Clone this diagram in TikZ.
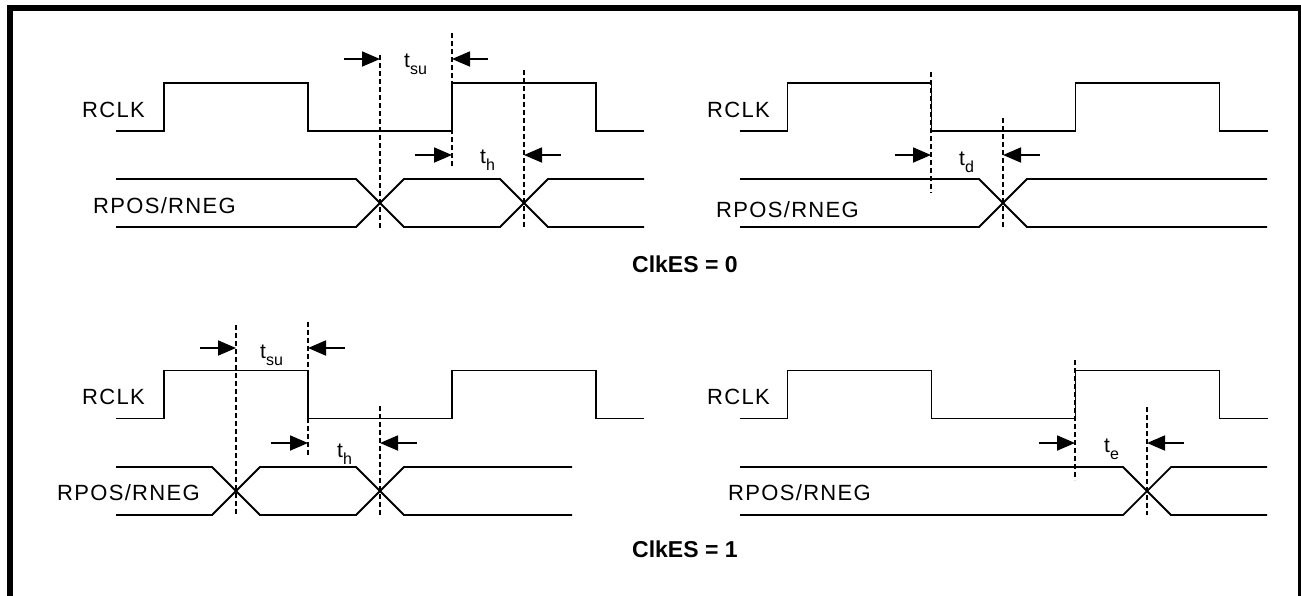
\documentclass[tikz,border=0pt]{standalone}
\usepackage{fontspec}
\setmainfont{Liberation Sans}
\newfontfamily\lblfont[LetterSpace=6]{Liberation Sans}
\usetikzlibrary{arrows.meta}

\tikzset{
  sig/.style={line width=1.8pt, line join=miter},
  guide/.style={line width=1.6pt, dash pattern=on 5pt off 3pt},
  tarr/.style={line width=1.8pt, -{Triangle[length=18pt 0 0,width=15pt 0 0]}},
  lbl/.style={inner sep=0pt, anchor=base west, font=\lblfont\fontsize{22}{26}\selectfont},
  tlbl/.style={inner sep=0pt, anchor=base west, font=\fontsize{21}{24}\selectfont},
  heading/.style={inner sep=0pt, anchor=base west, font=\bfseries\fontsize{23}{27}\selectfont},
}
\newcommand{\tsub}[1]{t\raisebox{-7pt}{\fontsize{16}{16}\selectfont #1}}

\begin{document}
\begin{tikzpicture}[x=1pt,y=-1pt]
  \useasboundingbox (0,0) rectangle (1301,595);
  % frame, open at the bottom
  \draw[line width=6pt] (10,600) -- (10,8) -- (1301,8) -- (1301,600);

  % RCLK, same in all four panels
  \foreach \dx/\dy in {0/0,623.5/0,0/287.5,623.5/287.5}
    \draw[sig,shift={(\dx,\dy)}] (116,131) -| (164,83) -| (308,131) -| (452,83) -| (596,131) -- (644,131);

  % RPOS/RNEG
  \draw[sig] (116,179) -- (356,179) -- (404,227) -- (500,227) -- (548,179) -- (644,179);
  \draw[sig] (116,227) -- (356,227) -- (404,179) -- (500,179) -- (548,227) -- (644,227);
  \draw[sig] (740,179) -- (979,179) -- (1027,227) -- (1267,227);
  \draw[sig] (740,227) -- (979,227) -- (1027,179) -- (1267,179);
  \draw[sig] (116,467) -- (212,467) -- (260,515) -- (356,515) -- (404,467) -- (572,467);
  \draw[sig] (116,515) -- (212,515) -- (260,467) -- (356,467) -- (404,515) -- (572,515);
  \draw[sig] (740,467) -- (1123,467) -- (1171,515) -- (1267,515);
  \draw[sig] (740,515) -- (1123,515) -- (1171,467) -- (1267,467);

  % signal names
  \node[lbl] (clkA) at (82,117)  {RCLK};
  \node[lbl] (clkB) at (707,117) {RCLK};
  \node[lbl] (clkC) at (82,404)  {RCLK};
  \node[lbl] (clkD) at (707,404) {RCLK};
  \node[lbl] (datA) at (93,213)  {RPOS/RNEG};
  \node[lbl] (datB) at (716,217) {RPOS/RNEG};
  \node[lbl] (datC) at (57,500)  {RPOS/RNEG};
  \node[lbl] (datD) at (728,500) {RPOS/RNEG};

  % guide lines
  \foreach \x/\ya/\yb in {380/55/228,452/33/168,524/70/228,931/72/193,1003/118/228,
                          236/325/515,308/322/456,380/406/515,1075/360/480,1147/407/515}
    \draw[guide] (\x,\ya) -- (\x,\yb);

  % timing arrows
  \foreach \xa/\xb/\y in {344/380/59,488/452/59,415/452/155,561/524/155,895/931/155,1040/1003/155,
                          200/236/348,345/308/348,271/308/443,417/380/443,1039/1075/443,1184/1147/443}
    \draw[tarr] (\xa,\y) -- (\xb,\y);

  \node[tlbl] (tsuA) at (404,67)  {\tsub{su}};
  \node[tlbl] (thA)  at (480,163) {\tsub{h}};
  \node[tlbl] (tdB)  at (959,165) {\tsub{d}};
  \node[tlbl] (tsuC) at (260,358) {\tsub{su}};
  \node[tlbl] (thC)  at (337,457) {\tsub{h}};
  \node[tlbl] (teD)  at (1104,452) {\tsub{e}};

  % captions
  \node[heading] (modeA) at (632,272) {ClkES = 0};
  \node[heading] (modeB) at (632,557) {ClkES = 1};
\end{tikzpicture}
\end{document}
